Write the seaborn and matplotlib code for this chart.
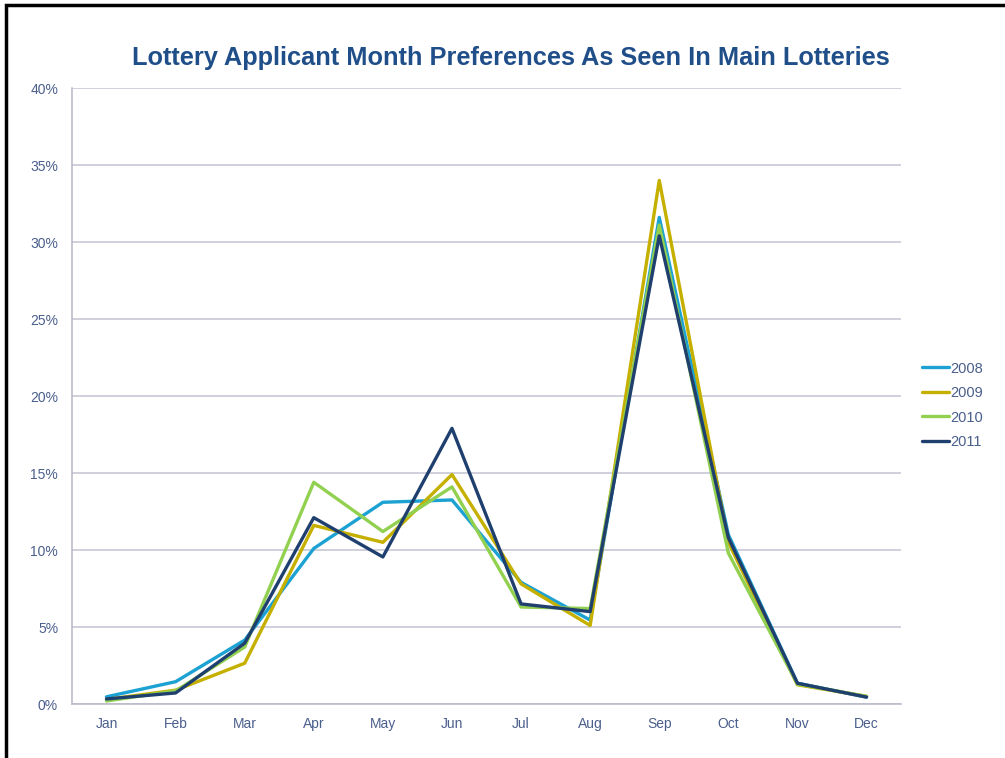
import seaborn as sns
import matplotlib.pyplot as plt
import pandas as pd
from matplotlib.ticker import PercentFormatter
from matplotlib.patches import Rectangle

months = ["Jan", "Feb", "Mar", "Apr", "May", "Jun", "Jul", "Aug", "Sep", "Oct", "Nov", "Dec"]
years = ["2008", "2009", "2010", "2011"]

# share of applicants per month (%)
y2008 = [0.47, 1.45, 4.15, 10.1, 13.1, 13.25, 7.9, 5.45, 31.6, 11.0, 1.35, 0.45]
y2009 = [0.3, 0.9, 2.65, 11.6, 10.5, 14.9, 7.8, 5.1, 34.0, 10.5, 1.25, 0.5]
y2010 = [0.2, 0.85, 3.7, 14.4, 11.2, 14.1, 6.3, 6.2, 31.1, 9.8, 1.3, 0.5]
y2011 = [0.33, 0.72, 3.95, 12.1, 9.55, 17.9, 6.5, 6.0, 30.4, 10.8, 1.35, 0.45]

colors = ["#1BA1D2", "#C5B000", "#92D050", "#1F3F6E"]
text_col = "#4A5F8C"

df = pd.DataFrame({"Month": months * 4,
                   "Year": [y for y in years for _ in months],
                   "Value": y2008 + y2009 + y2010 + y2011})
df["x"] = df["Month"].map({m: i for i, m in enumerate(months)})

sns.set_style("white")
plt.rcParams["font.family"] = ["Liberation Sans", "DejaVu Sans"]

fig = plt.figure(figsize=(10.05, 7.58), dpi=100)
ax = fig.add_axes([0.0716, 0.0712, 0.825, 0.8127])

sns.lineplot(data=df, x="x", y="Value", hue="Year", palette=colors,
             linewidth=2.4, ax=ax)

ax.set_xlim(-0.5, 11.5)
ax.set_ylim(0, 40)
ax.set_yticks(range(0, 41, 5))
ax.yaxis.set_major_formatter(PercentFormatter(decimals=0))
ax.set_xticks(range(12))
ax.set_xticklabels(months)
ax.set_xticks([i - 0.5 for i in range(13)], minor=True)
ax.tick_params(axis="x", which="major", length=0, pad=9, labelsize=10, labelcolor=text_col)
ax.tick_params(axis="x", which="minor", length=5, color="#A6A6B8", direction="out")
ax.tick_params(axis="y", length=4, color="#A6A6B8", labelsize=10, labelcolor=text_col, pad=6)
ax.grid(axis="y", color="#C3C3D3", linewidth=1.1)
ax.set_axisbelow(True)
for s in ["top", "right"]:
    ax.spines[s].set_visible(False)
for s in ["left", "bottom"]:
    ax.spines[s].set_color("#B8B8C8")
    ax.spines[s].set_linewidth(1.1)
ax.set_xlabel("")
ax.set_ylabel("")

leg = ax.legend(loc="center left", bbox_to_anchor=(1.01, 0.485), frameon=False,
                handlelength=1.8, handletextpad=0.1, labelspacing=0.72, fontsize=10.5)
for t in leg.get_texts():
    t.set_color(text_col)

fig.text(0.508, 0.924, "Lottery Applicant Month Preferences As Seen In Main Lotteries",
         ha="center", va="center", fontsize=18.3, fontweight="bold", color="#1F4E89")

fig.patches.append(Rectangle((0.006, -0.05), 1.1, 1.043, transform=fig.transFigure,
                             fill=False, edgecolor="black", linewidth=2.5))

fig.savefig("out.png", dpi=100)
